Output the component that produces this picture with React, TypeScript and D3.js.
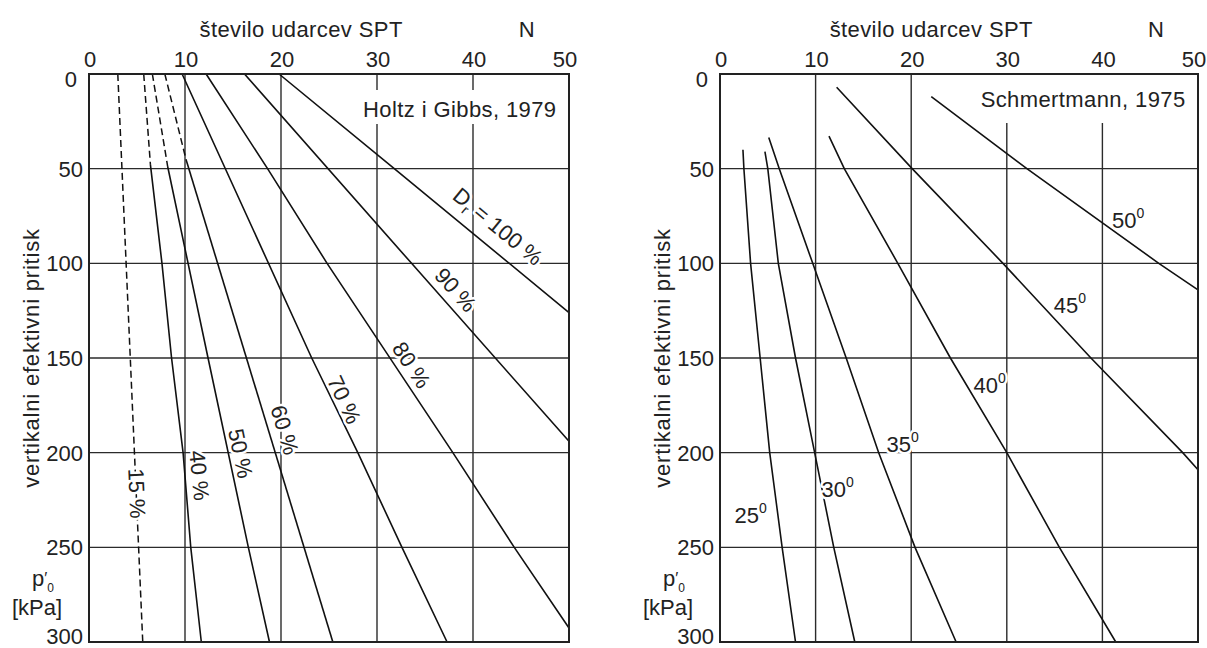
import * as d3 from "d3"

// axis ticks
const nTicks = [0, 10, 20, 30, 40, 50]
const pTicks = [0, 50, 100, 150, 200, 250, 300]
const nGrid = [10, 20, 30, 40]
const pGrid = [50, 100, 150, 200, 250]

// Holtz i Gibbs, 1979 - lines of relative density Dr, points are [N, p'0]
const dr15 = [[3.0, 0], [4.3, 150], [5.6, 300]]
const dr40Dashed = [[5.7, 0], [6.4, 48]]
const dr40 = [[6.4, 48], [7.6, 100], [8.6, 150], [9.8, 200], [10.6, 250], [11.7, 300]]
const dr50Dashed = [[6.6, 0], [8.2, 49]]
const dr50 = [[8.2, 49], [12.4, 150], [16.6, 250], [18.8, 300]]
const dr60Dashed = [[7.9, 0], [10.1, 45]]
const dr60 = [[10.1, 45], [16.4, 150], [25.4, 300]]
const dr70 = [[9.7, 0], [23.2, 150], [28.0, 200], [32.6, 250], [37.3, 300]]
const dr80 = [[12.2, 0], [18.6, 50], [24.8, 100], [37.9, 200], [44.3, 250], [50, 292.6]]
const dr90 = [[16.2, 0], [33.6, 100], [50, 194]]
const dr100 = [[19.8, 0], [31.8, 50], [50, 126]]

const holtzNames = ["15 %", "40 %", "50 %", "60 %", "70 %", "80 %", "90 %", "100 %"]
const holtzLabelN = [5.0, 11.5, 15.8, 20.4, 26.6, 33.6, 38.2, 42.6]
const holtzLabelP = [221.5, 212, 200.4, 188, 172, 153.7, 114, 80.5]

// Schmertmann, 1975 - lines of friction angle, points are [N, p'0]
const phi25 = [[2.4, 40], [2.5, 50], [3.2, 100], [4.2, 150], [5.2, 200], [6.5, 250], [7.9, 300]]
const phi30 = [[4.7, 41], [5.0, 50], [6.1, 100], [7.9, 150], [9.9, 200], [11.9, 250], [14.1, 300]]
const phi35 = [[5.1, 33.5], [6.2, 50], [9.7, 100], [13.2, 150], [16.6, 200], [20.4, 250], [24.7, 300]]
const phi40 = [[11.4, 32.8], [13.0, 50], [18.6, 100], [24.1, 150], [30.0, 200], [35.5, 250], [41.4, 300]]
const phi45 = [[12.2, 7], [20.1, 50], [29.6, 100], [38.8, 150], [48.4, 200], [50, 209]]
const phi50 = [[22.1, 12], [32.1, 50], [45.9, 100], [50, 114]]

const phiNames = ["25", "30", "35", "40", "45", "50"]
const phiLabelN = [3.2, 12.3, 19.1, 28.2, 36.6, 42.7]
const phiLabelP = [232, 218, 194.2, 163.4, 121, 76.2]

const W = 1207
const H = 648
const font = "'Liberation Sans', Arial, Helvetica, sans-serif"
const fs = 22

const y = d3.scaleLinear().domain([0, 300]).range([74, 642])
const xL = d3.scaleLinear().domain([0, 50]).range([89, 569])
const xR = d3.scaleLinear().domain([0, 50]).range([720, 1198])

const halo = { stroke: "#fff", strokeWidth: 5, paintOrder: "stroke", strokeLinejoin: "round" as const }

function angleOf(x: any, pts: number[][]) {
  const a = pts[0]
  const b = pts[pts.length - 1]
  return (Math.atan2(y(b[1]) - y(a[1]), x(b[0]) - x(a[0])) * 180) / Math.PI
}

function Frame({ x, note, noteBox, children }: any) {
  const x0 = x(0)
  const x1 = x(50)
  return (
    <g>
      {/* grid */}
      {pGrid.map((p) => (
        <line key={"h" + p} x1={x0} x2={x1} y1={y(p)} y2={y(p)} stroke="#2b2b2b" strokeWidth={1.4} />
      ))}
      {nGrid.map((n) => (
        <line key={"v" + n} x1={x(n)} x2={x(n)} y1={y(0)} y2={y(300)} stroke="#2b2b2b" strokeWidth={1.4} />
      ))}
      <rect x={noteBox[0]} y={noteBox[1]} width={noteBox[2]} height={noteBox[3]} fill="#fff" />
      <text x={x(48.7)} y={noteBox[4]} textAnchor="end" fontSize={fs} letterSpacing={0.4} fill="#222">
        {note}
      </text>

      {children}

      <rect x={x0} y={y(0)} width={x1 - x0} height={y(300) - y(0)} fill="none" stroke="#222" strokeWidth={2} />

      {/* axis labels */}
      {nTicks.map((n) => (
        <text key={"xt" + n} x={x(n) + (n === 50 ? -4 : 1)} y={67} textAnchor="middle" fontSize={fs} fill="#222">
          {n}
        </text>
      ))}
      {pTicks.map((p) => (
        <text
          key={"yt" + p}
          x={x0 - (p === 0 ? 12 : 6)}
          y={y(p) + (p === 0 ? 5 : p === 300 ? -6 : 0)}
          dy="0.36em"
          textAnchor="end"
          fontSize={fs}
          fill="#222"
        >
          {p}
        </text>
      ))}
      <text x={x(22.1)} y={37} textAnchor="middle" fontSize={fs} letterSpacing={0.4} fill="#222">
        število udarcev SPT
      </text>
      <text x={x(45.6)} y={37} textAnchor="middle" fontSize={fs} fill="#222">
        N
      </text>
      <text
        transform={`translate(${x0 - 58},358) rotate(-90)`}
        textAnchor="middle"
        dy="0.35em"
        fontSize={fs}
        letterSpacing={0.8}
        fill="#222"
      >
        vertikalni efektivni pritisk
      </text>
      <text x={x0 - 57} y={586} fontSize={fs} fill="#222">
        p
        <tspan dy={-2} fontSize={16}>
          ′
        </tspan>
        <tspan dy={8} fontSize={12}>
          0
        </tspan>
      </text>
      <text x={x0 - 52} y={615} textAnchor="middle" fontSize={fs} fill="#222">
        [kPa]
      </text>
    </g>
  )
}

export default function App() {
  const lineL = d3
    .line<number[]>()
    .x((d) => xL(d[0]))
    .y((d) => y(d[1]))
  const lineR = d3
    .line<number[]>()
    .x((d) => xR(d[0]))
    .y((d) => y(d[1]))

  const holtzSolid = [dr40, dr50, dr60, dr70, dr80, dr90, dr100]
  const holtzDashed = [dr15, dr40Dashed, dr50Dashed, dr60Dashed]
  const holtzWhole = [
    dr15,
    [...dr40Dashed, ...dr40],
    [...dr50Dashed, ...dr50],
    [...dr60Dashed, ...dr60],
    dr70,
    dr80,
    dr90,
    dr100,
  ]
  const phiLines = [phi25, phi30, phi35, phi40, phi45, phi50]

  return (
    <svg
      width={W}
      height={H}
      style={{ position: "absolute", left: 0, top: 0, background: "#fff" }}
      fontFamily={font}
    >
      <rect width={W} height={H} fill="#fff" />

      <Frame x={xL} note="Holtz i Gibbs, 1979" noteBox={[345, 90, 220, 34, 117]}>
        {holtzDashed.map((pts, i) => (
          <path key={"d" + i} d={lineL(pts) as string} fill="none" stroke="#111" strokeWidth={1.5} strokeDasharray="7 4" />
        ))}
        {holtzSolid.map((pts, i) => (
          <path key={"s" + i} d={lineL(pts) as string} fill="none" stroke="#111" strokeWidth={1.6} />
        ))}
        {holtzNames.map((name, i) => {
          const a = angleOf(xL, holtzWhole[i])
          return (
            <text
              key={name}
              transform={`translate(${xL(holtzLabelN[i])},${y(holtzLabelP[i])}) rotate(${a})`}
              textAnchor="middle"
              dy="0.35em"
              fontSize={fs}
              fill="#222"
              {...halo}
            >
              {name === "100 %" ? (
                <>
                  D
                  <tspan fontSize={14} dy={5}>
                    r
                  </tspan>
                  <tspan dy={-5}> = 100 %</tspan>
                </>
              ) : (
                name
              )}
            </text>
          )
        })}
      </Frame>

      <Frame x={xR} note="Schmertmann, 1975" noteBox={[968, 75, 226, 48, 107]}>
        {phiLines.map((pts, i) => (
          <path key={"p" + i} d={lineR(pts) as string} fill="none" stroke="#111" strokeWidth={1.6} />
        ))}
        {phiNames.map((name, i) => (
          <text
            key={name}
            x={xR(phiLabelN[i])}
            y={y(phiLabelP[i])}
            dy="0.45em"
            textAnchor="middle"
            fontSize={fs}
            fill="#222"
            {...halo}
          >
            {name}
            <tspan fontSize={14} dy={-10}>
              0
            </tspan>
          </text>
        ))}
      </Frame>
    </svg>
  )
}
